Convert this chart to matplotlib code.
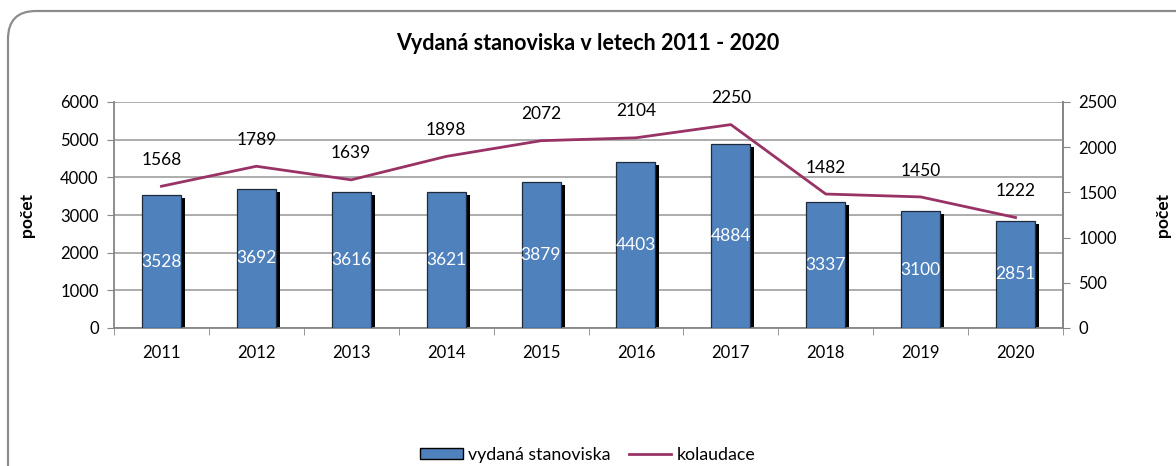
import matplotlib
matplotlib.use("Agg")
import matplotlib.pyplot as plt
from matplotlib.patches import FancyBboxPatch, Patch
from matplotlib.lines import Line2D
from matplotlib.transforms import ScaledTranslation
import numpy as np

years = ["2011", "2012", "2013", "2014", "2015", "2016", "2017", "2018", "2019", "2020"]
stanoviska = [3528, 3692, 3616, 3621, 3879, 4403, 4884, 3337, 3100, 2851]
kolaudace = [1568, 1789, 1639, 1898, 2072, 2104, 2250, 1482, 1450, 1222]
left_ticks = [0, 1000, 2000, 3000, 4000, 5000, 6000]
right_ticks = [0, 500, 1000, 1500, 2000, 2500]

FONT = "Lato"
plt.rcParams["font.family"] = [FONT, "DejaVu Sans"]

BLUE = "#4F81BD"
PURPLE = "#993366"
GRID = "#A6A6A6"
SPINE = "#868686"

fig = plt.figure(figsize=(11.76, 4.66), dpi=100)
W, H = 1176, 466

# rounded frame (extends beyond right/bottom edges), in inches
frame = FancyBboxPatch((0.08, -1.0), 13.0, (H - 11) / 100 + 1.0,
                       boxstyle="round,pad=0,rounding_size=0.28",
                       transform=fig.dpi_scale_trans, fill=False,
                       edgecolor="#8C8C8C", linewidth=1.6, zorder=0)
fig.patches.append(frame)

ax = fig.add_axes([114 / W, 1 - 328 / H, (1063 - 114) / W, (328 - 102) / H])
ax2 = ax.twinx()

x = np.arange(len(years))
bw = 0.41
shadow_tr = ax.transData + ScaledTranslation(4 / 100, -3 / 100, fig.dpi_scale_trans)
ax.bar(x, stanoviska, width=bw, color="black", edgecolor="black", linewidth=0,
       transform=shadow_tr, zorder=2)
ax.bar(x, stanoviska, width=bw, color=BLUE, edgecolor="#1F2A3A",
       linewidth=0.9, zorder=3)
for xi, v in zip(x, stanoviska):
    ax.text(xi, v / 2, str(v), color="white", ha="center", va="center",
            fontsize=12.5, zorder=4)

ax.set_xlim(-0.5, len(years) - 0.5)
ax.set_ylim(0, 6000)
ax.set_yticks(left_ticks)
ax.set_yticklabels([str(t) for t in left_ticks], fontsize=12)
ax.set_xticks(x)
ax.set_xticklabels(years, fontsize=12)
ax.tick_params(axis="x", which="major", length=0, pad=12)
ax.set_xticks(np.arange(len(years) + 1) - 0.5, minor=True)
ax.tick_params(axis="x", which="minor", length=5, color=SPINE, direction="out")
ax.tick_params(axis="y", length=5, color=SPINE, direction="out", pad=6)
ax.grid(axis="y", color=GRID, linewidth=1.3, zorder=0)
ax.set_axisbelow(True)
ax.spines["top"].set_visible(False)
for s in ["left", "bottom", "right"]:
    ax.spines[s].set_color(SPINE)
    ax.spines[s].set_linewidth(1.3)

ax2.plot(x, kolaudace, color=PURPLE, linewidth=2.0, zorder=5)
for xi, v in zip(x, kolaudace):
    ax2.annotate(str(v), (xi, v), xytext=(0, 19), textcoords="offset points",
                 ha="center", va="center", fontsize=12.5, color="black")
ax2.set_ylim(0, 2500)
ax2.set_yticks(right_ticks)
ax2.set_yticklabels([str(t) for t in right_ticks], fontsize=12)
ax2.tick_params(axis="y", length=5, color=SPINE, direction="out", pad=6)
ax2.spines["top"].set_visible(False)
ax2.spines["left"].set_visible(False)
ax2.spines["bottom"].set_visible(False)
ax2.spines["right"].set_color(SPINE)
ax2.spines["right"].set_linewidth(1.3)

# axis titles
fig.text(27 / W, 1 - 215 / H, "počet", rotation=90, ha="center", va="center",
         fontsize=12.5, fontweight="bold")
fig.text(1163 / W, 1 - 215 / H, "počet", rotation=90, ha="center", va="center",
         fontsize=12.5, fontweight="bold")

fig.text(0.5, 1 - 43 / H, "Vydaná stanoviska v letech 2011 - 2020",
         ha="center", va="center", fontsize=15.5, fontweight="bold")

handles = [Patch(facecolor=BLUE, edgecolor="black", linewidth=1.0),
           Line2D([0], [0], color=PURPLE, linewidth=2.0)]
fig.legend(handles, ["vydaná stanoviska", "kolaudace"], loc="center",
           bbox_to_anchor=(0.5, 1 - 455 / H), ncol=2, frameon=False,
           fontsize=12.8, handlelength=2.4, handleheight=0.55,
           handletextpad=0.3, columnspacing=1.0)

fig.savefig("out.png", dpi=100)
